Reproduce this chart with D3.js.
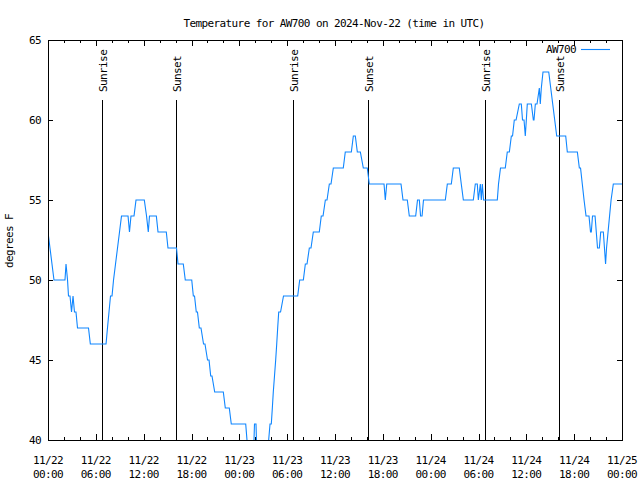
<!DOCTYPE html>
<html><head><meta charset="utf-8">
<script src="https://cdn.jsdelivr.net/npm/d3@7"></script>
<style>
html,body{margin:0;padding:0;background:#fff;}
svg text{font-family:"DejaVu Sans Mono",monospace;font-size:11px;letter-spacing:-0.6px;fill:#000;}
</style></head>
<body>
<svg id="chart" width="640" height="480"></svg>
<script>
// ---- data (hours after 2024-11-22 00:00 UTC, temperature in degrees F) ----
const startUTC = "2024-11-22T00:00:00Z";
const endUTC = "2024-11-25T00:00:00Z";
const hoursFromStart = [
 0.00,0.25,0.50,0.75,2.13,2.26,2.45,2.57,2.76,2.95,3.14,3.32,3.51,3.70,5.08,5.31,7.28,7.46,7.65,7.84,
 8.03,8.22,8.47,8.72,8.97,9.22,10.04,10.22,10.41,10.79,11.04,12.08,12.36,12.58,12.73,13.59,13.80,14.84,15.05,16.12,
 16.31,16.97,17.22,18.03,18.23,18.38,18.60,18.75,18.98,19.19,19.51,19.69,20.01,20.20,20.41,20.57,20.91,21.99,22.24,22.74,
 22.99,24.80,24.96,25.15,25.78,25.84,25.90,26.09,26.15,26.28,27.60,27.68,27.85,28.01,28.14,28.26,28.41,28.56,28.69,28.81,
 28.94,29.17,29.54,31.32,31.57,32.03,32.28,32.49,32.78,32.99,33.28,34.03,34.28,34.50,34.79,35.00,35.29,35.50,35.79,37.04,
 37.29,38.05,38.30,38.55,38.80,39.18,39.55,40.05,40.30,42.15,42.31,42.49,44.28,44.53,45.07,45.32,46.12,46.35,46.58,46.73,
 46.92,47.10,49.84,50.09,50.59,50.84,51.59,51.84,52.10,53.35,53.60,53.85,53.98,54.23,54.35,54.48,54.63,56.36,56.51,56.76,
 57.36,57.61,57.87,58.12,58.27,58.49,58.71,59.12,59.37,59.52,59.71,59.87,60.00,60.12,60.63,60.88,60.96,61.13,61.34,61.63,
 61.75,61.88,62.09,62.81,63.06,63.31,63.56,63.81,64.94,65.14,66.40,66.65,66.80,67.02,67.24,67.49,67.86,68.05,68.15,68.30,
 68.62,68.93,69.16,69.33,69.66,69.94,70.06,70.25,70.44,70.63,70.91,72.00
];
const temperatureF = [
 53,52,51,50,50,51,50,49,49,48,49,48,48,47,47,46,46,47,48,49,
 49,50,51,52,53,54,54,53,54,54,55,55,54,53,54,54,53,53,52,52,
 51,51,50,50,49,49,48,48,47,47,46,46,45,45,44,44,43,43,42,42,
 41,41,40,39,39,40,41,41,40,39,39,40,41,41,42,43,44,45,46,47,
 48,48,49,49,50,50,51,51,52,52,53,53,54,54,55,55,56,56,57,57,
 58,58,59,59,58,58,57,57,56,56,55,56,56,55,55,54,54,55,55,54,
 54,55,55,56,56,57,57,56,55,55,56,56,55,56,55,56,55,55,56,57,
 57,58,58,59,59,60,60,61,61,60,60,59,60,61,61,60,60,61,61,62,
 61,62,63,63,62,61,60,59,59,58,58,57,57,56,55,54,54,53,53,54,
 54,52,52,53,53,51,52,53,54,55,56,56
];
const sunEvents = ["Sunrise","Sunset","Sunrise","Sunset","Sunrise","Sunset"];
const sunTimesUTC = ["2024-11-22T06:43:00Z","2024-11-22T16:03:00Z","2024-11-23T06:46:00Z",
                     "2024-11-23T16:10:00Z","2024-11-24T06:52:00Z","2024-11-24T16:08:00Z"];
const yTickValues = [40,45,50,55,60,65];
const seriesName = "AW700";
const titleText = "Temperature for AW700 on 2024-Nov-22 (time in UTC)";
const yLabelText = "degrees F";

// ---- layout ----
const W = 640, H = 480;
const L = 48, R = 622, T = 40, B = 440;
const svg = d3.select("#chart");

const t0 = new Date(startUTC);
const points = hoursFromStart.map((h, i) => ({t: new Date(t0.getTime() + h * 3600e3), v: temperatureF[i]}));

const x = d3.scaleUtc().domain([new Date(startUTC), new Date(endUTC)]).range([L, R]);
const y = d3.scaleLinear().domain([40, 65]).range([B, T]);

// clip
svg.append("defs").append("clipPath").attr("id", "plotclip")
  .append("rect").attr("x", L).attr("y", T).attr("width", R - L).attr("height", B - T);

// minor x ticks (2h) bottom/top
const minorTicks = d3.utcHour.every(2).range(x.domain()[0], new Date(x.domain()[1].getTime() + 1));
const majorTicks = d3.utcHour.every(6).range(x.domain()[0], new Date(x.domain()[1].getTime() + 1));
const tickG = svg.append("g").attr("stroke", "#000").attr("stroke-width", 1).attr("shape-rendering", "crispEdges");
minorTicks.forEach(d => {
  const xx = Math.round(x(d)) + 0.5;
  tickG.append("line").attr("x1", xx).attr("x2", xx).attr("y1", B).attr("y2", B - 3);
  tickG.append("line").attr("x1", xx).attr("x2", xx).attr("y1", T).attr("y2", T + 3);
});
majorTicks.forEach(d => {
  const xx = Math.round(x(d)) + 0.5;
  tickG.append("line").attr("x1", xx).attr("x2", xx).attr("y1", B).attr("y2", B - 6);
  tickG.append("line").attr("x1", xx).attr("x2", xx).attr("y1", T).attr("y2", T + 6);
});
yTickValues.forEach(v => {
  const yy = Math.round(y(v)) + 0.5;
  tickG.append("line").attr("x1", L).attr("x2", L + 5).attr("y1", yy).attr("y2", yy);
  tickG.append("line").attr("x1", R).attr("x2", R - 5).attr("y1", yy).attr("y2", yy);
});

// x labels
const fDate = d3.utcFormat("%m/%d"), fTime = d3.utcFormat("%H:%M");
const xl = svg.append("g");
majorTicks.forEach(d => {
  const tx = xl.append("text").attr("text-anchor", "middle").attr("x", x(d));
  tx.append("tspan").attr("x", x(d)).attr("y", 464).text(fDate(d));
  tx.append("tspan").attr("x", x(d)).attr("y", 478).text(fTime(d));
});
// y labels
yTickValues.forEach(v => {
  svg.append("text").attr("x", 41).attr("y", y(v) + 4).attr("text-anchor", "end").text(v);
});

// sunrise/sunset lines
sunTimesUTC.forEach((s, i) => {
  const xx = Math.round(x(new Date(s))) + 0.5;
  svg.append("line").attr("x1", xx).attr("x2", xx)
    .attr("y1", B - 0.85 * (B - T)).attr("y2", B)
    .attr("stroke", "#000").attr("stroke-width", 1).attr("shape-rendering", "crispEdges");
  svg.append("text").attr("transform", `translate(${xx + 4},${B - 0.87 * (B - T)}) rotate(-90)`)
    .attr("text-anchor", "start").text(sunEvents[i]);
});

// data line
const line = d3.line().x(d => x(d.t)).y(d => y(d.v));
svg.append("path").datum(points).attr("clip-path", "url(#plotclip)")
  .attr("d", line).attr("fill", "none").attr("stroke", "#0f86ff").attr("stroke-width", 1.1);

// border
svg.append("rect").attr("x", L + 0.5).attr("y", T + 0.5).attr("width", R - L).attr("height", B - T)
  .attr("fill", "none").attr("stroke", "#000").attr("stroke-width", 1).attr("shape-rendering", "crispEdges");

// legend
svg.append("text").attr("x", 576).attr("y", 53).attr("text-anchor", "end").text(seriesName);
svg.append("line").attr("x1", 581).attr("x2", 610).attr("y1", 49.5).attr("y2", 49.5)
  .attr("stroke", "#0f86ff").attr("stroke-width", 1.1);

// title and y label
svg.append("text").attr("x", 334).attr("y", 27).attr("text-anchor", "middle").text(titleText);
svg.append("text").attr("transform", "translate(13,241) rotate(-90)").attr("text-anchor", "middle").text(yLabelText);
</script>
</body></html>
